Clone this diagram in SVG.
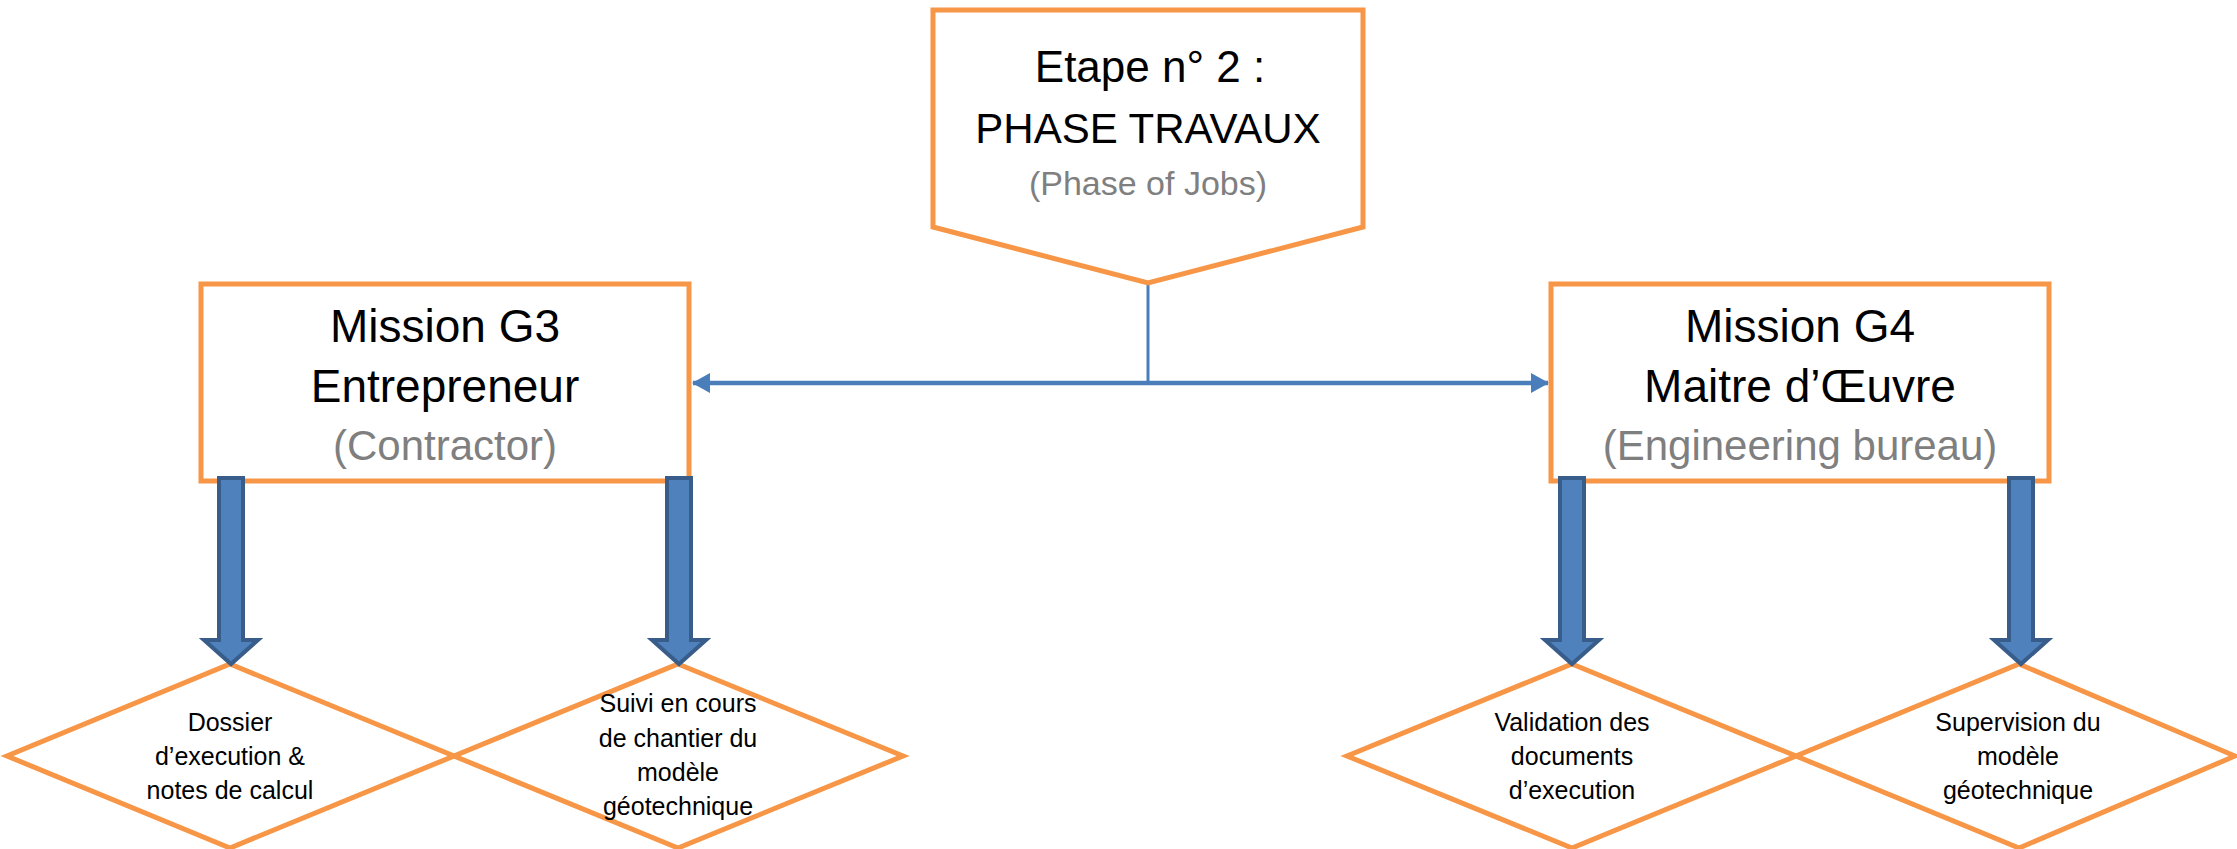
<svg xmlns="http://www.w3.org/2000/svg" width="2237" height="849" viewBox="0 0 2237 849">
<style>
.shape{fill:#FFFFFF;stroke:#F79646;stroke-width:5;stroke-linejoin:miter}
.t{font-family:"Liberation Sans",Arial,sans-serif;text-anchor:middle;fill:#000000}
.big{font-size:42px}
.big2{font-size:44px}
.mis{font-size:46px}
.sub{font-size:42px;fill:#7F7F7F}
.sub2{font-size:34px;fill:#7F7F7F}
.small{font-size:25px}
.block{fill:#4F81BD;stroke:#385D8A;stroke-width:4;stroke-linejoin:miter}
.conn{stroke:#4A7EBB;fill:none}
</style>
<defs>
<marker id="ah" markerUnits="userSpaceOnUse" markerWidth="18" markerHeight="20" refX="17" refY="10" orient="auto-start-reverse">
<path d="M0,0 L18,10 L0,20 Z" fill="#4A7EBB"/>
</marker>
</defs>
<g id="connectors">
<line class="conn" x1="1148" y1="283" x2="1148" y2="383" stroke-width="3"/>
<line class="conn" x1="693" y1="383" x2="1548" y2="383" stroke-width="4.5" marker-start="url(#ah)" marker-end="url(#ah)"/>
</g>
<g id="etape">
<polygon class="shape" points="933,10 1363,10 1363,227 1148,283 933,227"/>
<text class="t big2" x="1150" y="82">Etape n° 2 :</text>
<text class="t big" x="1148" y="143">PHASE TRAVAUX</text>
<text class="t sub2" x="1148" y="195">(Phase of Jobs)</text>
</g>
<g id="g3">
<rect class="shape" x="201" y="284" width="488" height="197"/>
<text class="t mis" x="445" y="342">Mission G3</text>
<text class="t mis" x="445" y="402">Entrepreneur</text>
<text class="t sub" x="445" y="460">(Contractor)</text>
</g>
<g id="g4">
<rect class="shape" x="1551" y="284" width="498" height="197"/>
<text class="t mis" x="1800" y="342">Mission G4</text>
<text class="t mis" x="1800" y="402">Maitre d’Œuvre</text>
<text class="t sub" x="1800" y="460">(Engineering bureau)</text>
</g>
<g id="d1">
<polygon class="shape" points="230,664 454,756 230,848 7,756"/>
<text class="t small" x="230" y="731">Dossier</text>
<text class="t small" x="230" y="765">d’execution &amp;</text>
<text class="t small" x="230" y="799">notes de calcul</text>
</g>
<g id="d2">
<polygon class="shape" points="678,664 903,756 678,848 454,756"/>
<text class="t small" x="678" y="712">Suivi en cours</text>
<text class="t small" x="678" y="747">de chantier du</text>
<text class="t small" x="678" y="781">modèle</text>
<text class="t small" x="678" y="815">géotechnique</text>
</g>
<g id="d3">
<polygon class="shape" points="1572,664 1796,756 1572,848 1347,756"/>
<text class="t small" x="1572" y="731">Validation des</text>
<text class="t small" x="1572" y="765">documents</text>
<text class="t small" x="1572" y="799">d’execution</text>
</g>
<g id="d4">
<polygon class="shape" points="2019,664 2235,756 2019,848 1796,756"/>
<text class="t small" x="2018" y="731">Supervision du</text>
<text class="t small" x="2018" y="765">modèle</text>
<text class="t small" x="2018" y="799">géotechnique</text>
</g>
<g id="arrows">
<polygon class="block" points="219,478 243,478 243,640 258,640 231,664 204,640 219,640"/>
<polygon class="block" points="667,478 691,478 691,640 706,640 679,664 652,640 667,640"/>
<polygon class="block" points="1560,478 1584,478 1584,640 1599,640 1572,664 1545,640 1560,640"/>
<polygon class="block" points="2009,478 2033,478 2033,640 2048,640 2021,664 1994,640 2009,640"/>
</g>
</svg>
